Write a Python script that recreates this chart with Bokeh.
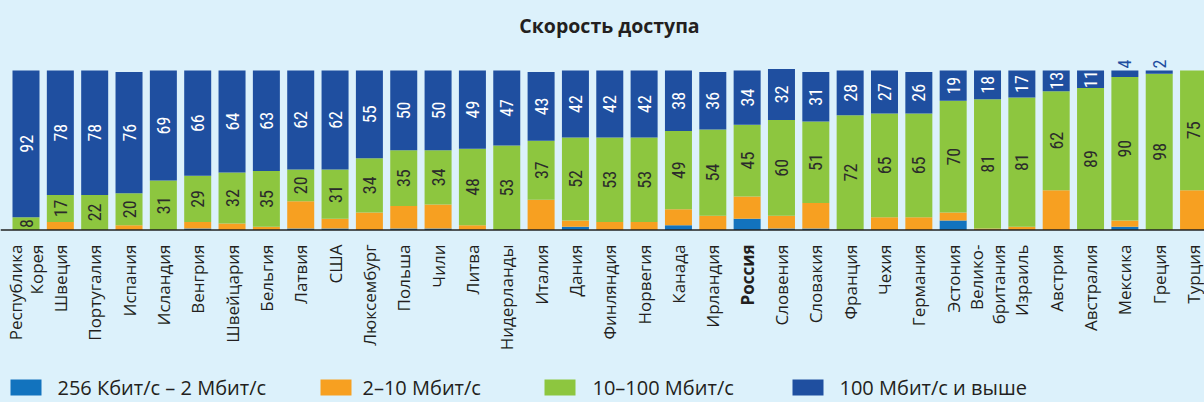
import math
from bokeh.plotting import figure
from bokeh.models import ColumnDataSource, Range1d, Span
from bokeh.core.properties import value
from bokeh.embed import file_html
from bokeh.resources import INLINE

# ---------------- data ----------------
countries = ["Республика\nКорея", "Швеция", "Португалия", "Испания", "Исландия", "Венгрия",
             "Швейцария", "Бельгия", "Латвия", "США", "Люксембург", "Польша", "Чили", "Литва",
             "Нидерланды", "Италия", "Дания", "Финляндия", "Норвегия", "Канада", "Ирландия",
             "Россия", "Словения", "Словакия", "Франция", "Чехия", "Германия", "Эстония",
             "Велико-\nбритания", "Израиль", "Австрия", "Австралия", "Мексика", "Греция", "Турция"]
highlight = "Россия"

s_256k_2m = [0, 0, 0, 0, 0, 1, 0, 0, 1, 1, 0, 1, 1, 0, 0, 0, 2, 0, 0, 3, 0, 7, 1, 1, 0, 0, 0, 6,
             0, 0, 0, 0, 2, 0, 0]
s_2_10 = [0, 5, 0, 3, 0, 4, 4, 2, 17, 6, 11, 14, 15, 3, 0, 19, 4, 5, 5, 10, 9, 14, 8, 16, 0, 8,
          8, 5, 1, 2, 25, 0, 4, 0, 25]
s_10_100 = [8, 17, 22, 20, 31, 29, 32, 35, 20, 31, 34, 35, 34, 48, 53, 37, 52, 53, 53, 49, 54, 45,
            60, 51, 72, 65, 65, 70, 81, 81, 62, 89, 90, 98, 75]
s_100 = [92, 78, 78, 76, 69, 66, 64, 63, 62, 62, 55, 50, 50, 49, 47, 43, 42, 42, 42, 38, 36, 34,
         32, 31, 28, 27, 26, 19, 18, 17, 13, 11, 4, 2, 0]

series_names = ["256 Кбит/с – 2 Мбит/с", "2–10 Мбит/с", "10–100 Мбит/с", "100 Мбит/с и выше"]
title_text = "Скорость доступа"

# ---------------- styles ----------------
BG = "#dcf1fb"
COLORS = ["#1273be", "#f7a021", "#8dc63f", "#1f4fa0"]
TXT = "#231f20"
FONT = "Open Sans"
NUM_FONT = "Liberation Sans Narrow, Roboto Condensed, Roboto"

W, H = 1204, 402
KX = 34.34          # px per bar slot
X0 = -25.5 / KX     # data x at left edge of frame
BASE_PX = 229.5     # baseline (screen y)
KY = 1.595          # px per percent


def px2x(px):
    return X0 + px / KX


def px2y(py):
    return (BASE_PX - py) / KY


n = len(countries)
idx = list(range(n))
src = ColumnDataSource(dict(x=idx, a=s_256k_2m, b=s_2_10, c=s_10_100, d=s_100))

p = figure(width=W, height=H, output_backend="svg", toolbar_location=None,
           x_axis_location=None, y_axis_location=None, min_border=0,
           x_range=Range1d(X0, X0 + W / KX),
           y_range=Range1d(px2y(H), px2y(0)))
p.background_fill_color = BG
p.border_fill_color = BG
p.outline_line_color = None
p.xgrid.grid_line_color = None
p.ygrid.grid_line_color = None

p.vbar_stack(["a", "b", "c", "d"], x="x", width=27 / KX, color=COLORS, line_color=None,
             source=src)

p.add_layout(Span(location=0, dimension="width", line_color="#222222", line_width=1.5))

# value labels: green segment
base_c = [a + b for a, b in zip(s_256k_2m, s_2_10)]
green_y = [bc + c / 2 for bc, c in zip(base_c, s_10_100)]
p.text(x=idx, y=green_y, text=[str(v) for v in s_10_100], angle=math.pi / 2,
       text_align="center", text_baseline="middle", text_color="#2b2b2b",
       text_font=value(NUM_FONT), text_font_size="18px")

# value labels: dark blue segment (inside if wide enough, else above the bar)
in_x, in_y, in_t, out_x, out_y, out_t = [], [], [], [], [], []
for i in idx:
    d = s_100[i]
    if d <= 0:
        continue
    top = base_c[i] + s_10_100[i]
    if d >= 8:
        in_x.append(i); in_y.append(top + d / 2); in_t.append(str(d))
    else:
        out_x.append(i); out_y.append(top + d + 1.2); out_t.append(str(d))
p.text(x=in_x, y=in_y, text=in_t, angle=math.pi / 2, text_align="center",
       text_baseline="middle", text_color="white", text_font=value(NUM_FONT),
       text_font_size="18px")
p.text(x=out_x, y=out_y, text=out_t, angle=math.pi / 2, text_align="left",
       text_baseline="middle", text_color=COLORS[3], text_font=value(NUM_FONT),
       text_font_size="18px")

# category labels
lab_y = px2y(244)
norm = [i for i in idx if countries[i] != highlight]
bold = [i for i in idx if countries[i] == highlight]
p.text(x=norm, y=[lab_y] * len(norm), text=[countries[i] for i in norm], angle=math.pi / 2,
       text_align="right", text_baseline="middle", text_color=TXT, text_font=value(FONT),
       text_font_size="17px", text_line_height=0.95)
p.text(x=bold, y=[lab_y] * len(bold), text=[countries[i] for i in bold], angle=math.pi / 2,
       text_align="right", text_baseline="middle", text_color=TXT, text_font=value(FONT),
       text_font_size="17px", text_font_style="bold")

# title
p.text(x=[px2x(609)], y=[px2y(25)], text=[title_text], text_align="center",
       text_baseline="middle", text_color=TXT, text_font=value(FONT), text_font_size="19.5px",
       text_font_style="bold")

# legend
leg_y = px2y(387)
sq_px = [25.5, 335.5, 559.5, 807.5]
tx_px = [57, 362, 592, 839]
p.rect(x=[px2x(v) for v in sq_px], y=[leg_y] * 4, width=31, height=16, width_units="screen",
       height_units="screen", fill_color=COLORS, line_color=None)
p.text(x=[px2x(v) for v in tx_px], y=[leg_y] * 4, text=series_names, text_align="left",
       text_baseline="middle", text_color=TXT, text_font=value(FONT), text_font_size="20px")

html = file_html(p, INLINE)
html = html.replace("</head>", "<style>html,body{background:%s;}</style></head>" % BG, 1)
open("out.html", "w").write(html)
